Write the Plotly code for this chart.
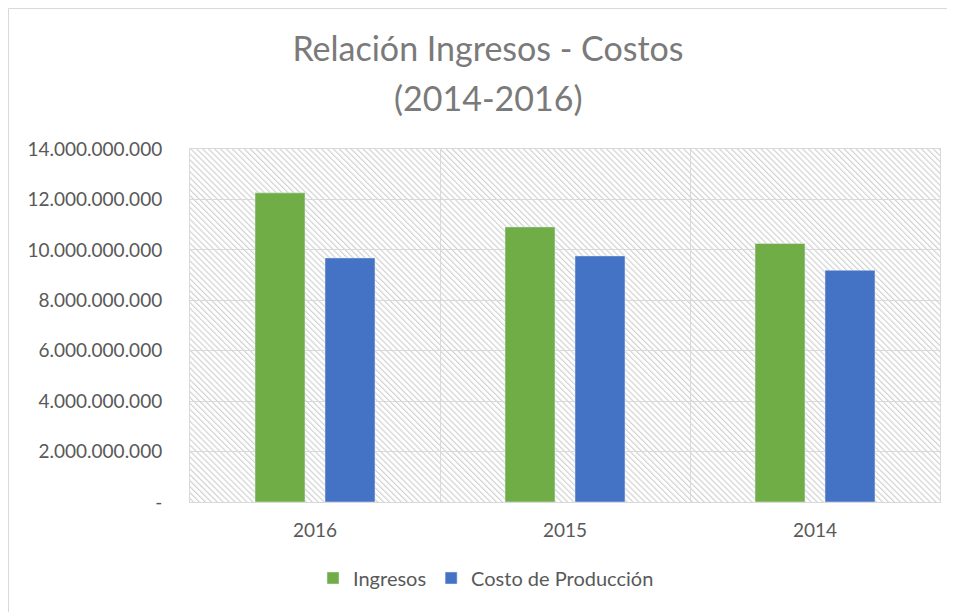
import base64
import plotly.graph_objects as go

# ---- data ----
categories = ["2016", "2015", "2014"]
ingresos = [12.26e9, 10.91e9, 10.25e9]
costo_produccion = [9.68e9, 9.76e9, 9.19e9]
y_ticks = [0, 2e9, 4e9, 6e9, 8e9, 10e9, 12e9, 14e9]
title_line1 = "Relación Ingresos - Costos"
title_line2 = "(2014-2016)"

def fmt(v):
    return "-" if v == 0 else f"{v:,.0f}".replace(",", ".")

y_ticktext = [fmt(v) for v in y_ticks]
x_pos = list(range(len(categories)))

FONT = "Lato, 'Open Sans', sans-serif"
TXT = "#595959"
TITLE_C = "#7a7a7a"
GRID = "#d9d9d9"
OFF = 8  # page body margin
W, H = 955 - OFF, 612 - OFF
ML, MR, MT, MB = 190 - OFF, 15, 149 - OFF, 110
PW, PH = W - ML - MR, H - MT - MB

def px_x(px):
    return (px - OFF - ML) / PW

def px_y(py):
    return (H - MB - (py - OFF)) / PH

# diagonal hatch background for plot area
s = 4.2
svg = (
    f'<svg xmlns="http://www.w3.org/2000/svg" width="{PW}" height="{PH}">'
    f'<defs><pattern id="h" width="{s}" height="{s}" patternUnits="userSpaceOnUse" '
    f'patternTransform="rotate(-45)"><line x1="0.6" y1="-1" x2="0.6" y2="{s+1}" '
    f'stroke="#d2d2d2" stroke-width="1.2"/></pattern></defs>'
    f'<rect width="100%" height="100%" fill="white"/>'
    f'<rect width="100%" height="100%" fill="url(#h)"/></svg>'
)
svg_uri = "data:image/svg+xml;base64," + base64.b64encode(svg.encode()).decode()

fig = go.Figure()
fig.add_trace(go.Bar(x=x_pos, y=ingresos, name="Ingresos", marker_color="#70AD47"))
fig.add_trace(go.Bar(x=x_pos, y=costo_produccion, name="Costo de Producción", marker_color="#4472C4"))

fig.update_layout(
    width=W, height=H, autosize=False,
    margin=dict(l=ML, r=MR, t=MT, b=MB),
    paper_bgcolor="white", plot_bgcolor="white",
    barmode="group", bargap=0.44, bargroupgap=0.286,
    font=dict(family=FONT, color=TXT, size=19),
    title=dict(text=title_line1, x=(488 - OFF) / W, xanchor="center",
               y=1 - (49 - OFF) / H, yanchor="middle",
               xref="container", yref="container",
               font=dict(family=FONT, size=34, color=TITLE_C)),
    annotations=[dict(text=title_line2, x=px_x(488), xref="paper", y=px_y(97), yref="paper",
                      xanchor="center", yanchor="middle", showarrow=False,
                      font=dict(family=FONT, size=34, color=TITLE_C))],
    legend=dict(orientation="h", x=(486 - OFF) / W, xanchor="center", xref="container",
                y=1 - (578 - OFF) / H, yanchor="middle", yref="container",
                font=dict(family=FONT, size=20, color=TXT), itemwidth=30),
    images=[dict(source=svg_uri, xref="x domain", yref="y domain", x=0, y=1,
                 sizex=1, sizey=1, xanchor="left", yanchor="top",
                 sizing="stretch", layer="below")],
    shapes=[dict(type="line", xref="paper", yref="paper",
                 x0=px_x(8.5), x1=px_x(8.5), y0=px_y(700), y1=px_y(8.5),
                 line=dict(color=GRID, width=1)),
            dict(type="line", xref="paper", yref="paper",
                 x0=px_x(8.5), x1=px_x(1000), y0=px_y(8.5), y1=px_y(8.5),
                 line=dict(color=GRID, width=1))],
)

fig.update_xaxes(
    range=[-0.5, len(categories) - 0.5], tickvals=x_pos, ticktext=categories,
    showgrid=False, zeroline=False, ticks="", ticklabelstandoff=11,
    showline=True, mirror=True, linecolor=GRID, linewidth=1,
    minor=dict(tickvals=[i + 0.5 for i in x_pos[:-1]], showgrid=True, gridcolor=GRID, gridwidth=1),
    tickfont=dict(family=FONT, size=19, color=TXT), fixedrange=True,
)
fig.update_yaxes(
    range=[0, y_ticks[-1]], tickvals=y_ticks, ticktext=y_ticktext,
    showgrid=True, gridcolor=GRID, gridwidth=1, zeroline=False, ticks="",
    ticklabelstandoff=23,
    showline=True, mirror=True, linecolor=GRID, linewidth=1,
    tickfont=dict(family=FONT, size=19, color=TXT), fixedrange=True,
)

fig.write_html("out.html")
